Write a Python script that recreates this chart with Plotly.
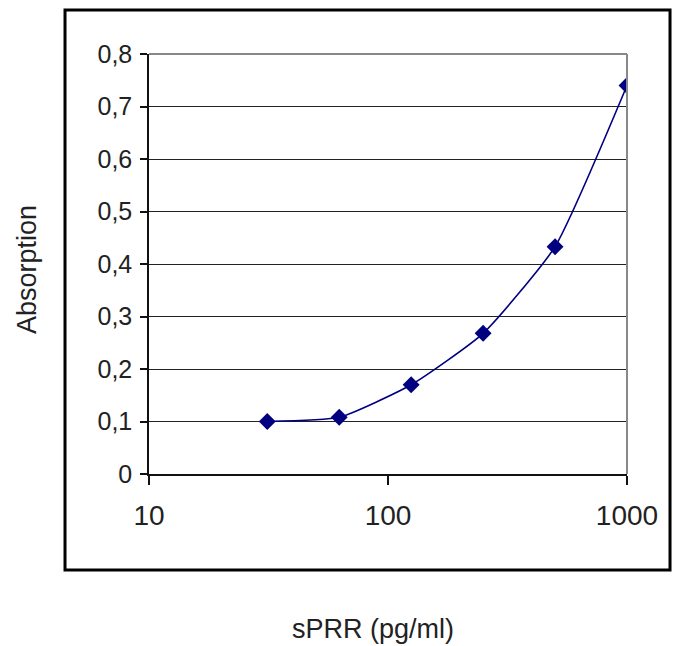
import plotly.graph_objects as go

conc = [31.25, 62.5, 125, 250, 500, 1000]
absorption = [0.100, 0.108, 0.170, 0.268, 0.433, 0.740]

y_tickvals = [0, 0.1, 0.2, 0.3, 0.4, 0.5, 0.6, 0.7, 0.8]
y_ticktext = ["0", "0,1", "0,2", "0,3", "0,4", "0,5", "0,6", "0,7", "0,8"]
x_tickvals = [10, 100, 1000]
x_ticktext = ["10", "100", "1000"]

navy = "#000080"
font = "Liberation Sans, Arial, sans-serif"

fig = go.Figure()
fig.add_trace(go.Scatter(
    x=conc, y=absorption, mode="lines+markers",
    line=dict(color=navy, width=1.6, shape="spline", smoothing=0.5),
    marker=dict(symbol="diamond", size=13, color=navy),
    showlegend=False,
))

fig.update_layout(
    width=673, height=646,
    margin=dict(l=149, r=46, t=54, b=172),
    paper_bgcolor="white", plot_bgcolor="white",
    font=dict(family=font, color="#222"),
    xaxis=dict(
        type="log", range=[1, 3], tickvals=x_tickvals, ticktext=x_ticktext,
        showgrid=False, zeroline=False, showline=True, linecolor="#111", linewidth=1.5,
        ticks="outside", ticklen=9, tickcolor="#111", tickwidth=1.5,
        tickfont=dict(size=28, family=font, color="#222"), ticklabelstandoff=7,
    ),
    yaxis=dict(
        range=[0, 0.8], tickvals=y_tickvals, ticktext=y_ticktext,
        showgrid=True, gridcolor="#222", gridwidth=1.2, zeroline=False,
        showline=True, linecolor="#111", linewidth=1.5,
        ticks="outside", ticklen=7, tickcolor="#111", tickwidth=1.5,
        tickfont=dict(size=25, family=font, color="#222"), ticklabelstandoff=3,
    ),
    shapes=[
        dict(type="line", xref="paper", yref="paper", x0=0, x1=1, y0=1, y1=1,
             line=dict(color="#888", width=2)),
        dict(type="line", xref="paper", yref="paper", x0=1, x1=1, y0=0, y1=1,
             line=dict(color="#888", width=2)),
        dict(type="rect", xref="paper", yref="paper",
             x0=-0.1757, x1=1.09, y0=-0.2286, y1=1.105,
             line=dict(color="black", width=3), layer="below"),
    ],
    annotations=[
        dict(text="Absorption", xref="paper", yref="paper", x=-0.255, y=0.486,
             textangle=-90, showarrow=False, font=dict(size=27, family=font, color="#222"),
             xanchor="center", yanchor="middle"),
        dict(text="sPRR (pg/ml)", xref="paper", yref="paper", x=0.469, y=-0.37,
             showarrow=False, font=dict(size=27, family=font, color="#222"),
             xanchor="center", yanchor="middle"),
    ],
)

fig.write_html("out.html")
